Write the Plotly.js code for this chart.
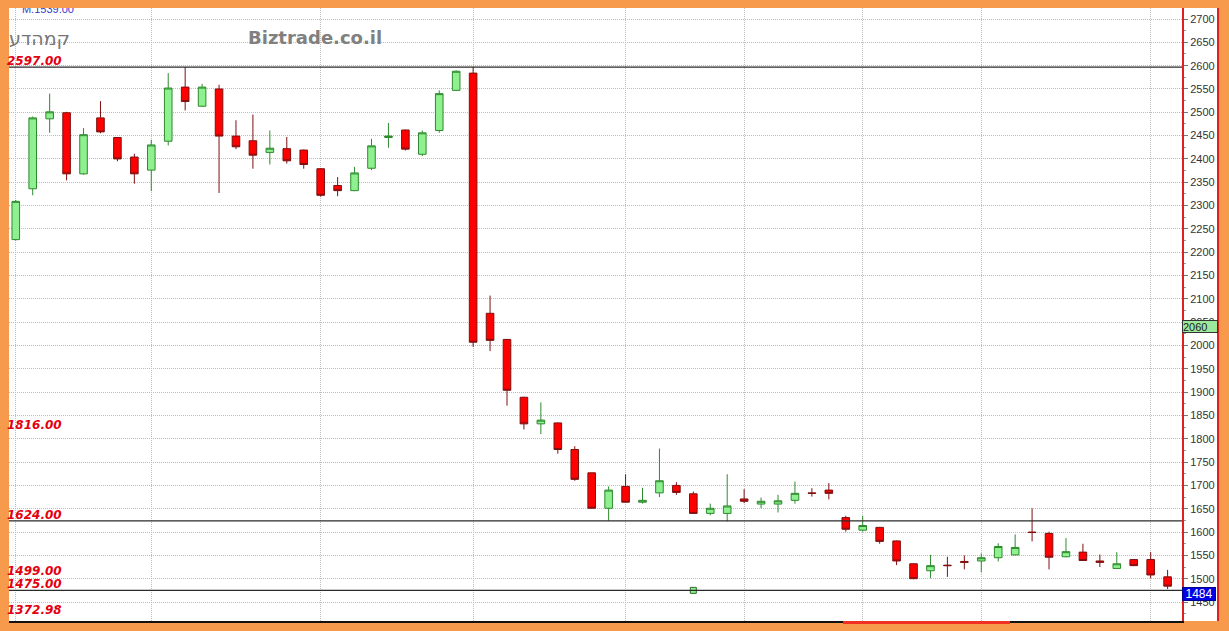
<!DOCTYPE html>
<html><head><meta charset="utf-8">
<script src="https://cdn.plot.ly/plotly-3.0.1.min.js"></script>
<style>html,body{margin:0;padding:0;background:#F89A4C;}#chart{width:1229px;height:631px;}</style>
</head><body><div id="chart"></div>
<script>
// trading-day index (dates not legible in the reference)
const days = [0,1,2,3,4,5,6,7,8,9,10,11,12,13,14,15,16,17,18,19,20,21,22,23,24,25,26,27,28,29,30,31,32,33,34,
  35,36,37,38,39,40,41,42,43,44,45,46,47,48,49,50,51,52,53,54,55,56,57,58,59,60,61,62,63,64,65,66,67,68];
const openP  = [2227,2336,2486,2499,2368,2488,2446,2404,2376,2438,2554,2513,2550,2449,2439,2414,2422,2419,2379,2343,2332,2380,2446,2462,2410,2461,2547,2584,2069,2013,1889,1832,1834,1777,1727,
  1651,1698,1664,1684,1700,1682,1640,1640,1671,1660,1660,1668,1684,1690,1631,1604,1610,1581,1532,1517,1529,1537,1538,1545,1551,1600,1597,1547,1557,1538,1522,1541,1541,1504];
const highP  = [2312,2491,2540,2501,2466,2524,2447,2411,2441,2584,2597,2561,2559,2483,2495,2461,2447,2420,2380,2361,2383,2443,2477,2463,2461,2547,2590,2597,2107,2014,1890,1878,1835,1784,1727,
  1698,1724,1695,1779,1707,1687,1661,1724,1692,1674,1680,1708,1694,1705,1635,1635,1611,1582,1533,1551,1547,1550,1554,1576,1595,1651,1601,1587,1575,1552,1557,1542,1557,1519];
const lowP   = [2225,2322,2456,2354,2366,2455,2395,2347,2331,2429,2504,2512,2327,2421,2379,2388,2390,2379,2319,2320,2331,2376,2424,2418,2406,2456,2546,1997,1988,1871,1820,1810,1768,1710,1650,
  1624,1663,1661,1675,1680,1639,1636,1623,1662,1651,1642,1661,1676,1670,1601,1601,1575,1529,1499,1501,1504,1520,1514,1537,1550,1580,1520,1546,1538,1525,1521,1527,1501,1478];
const closeP = [2309,2488,2501,2368,2452,2458,2400,2368,2430,2552,2523,2554,2449,2426,2408,2423,2396,2388,2322,2332,2370,2428,2449,2421,2456,2540,2588,2007,2011,1904,1832,1840,1777,1713,1651,
  1690,1664,1668,1710,1685,1640,1651,1656,1666,1666,1667,1683,1683,1683,1606,1614,1580,1538,1500,1528,1528,1535,1545,1569,1567,1599,1546,1558,1539,1535,1532,1528,1508,1484];
// vertical grid positions (period boundaries)
const gridDays = [0,8,18,27,36,43,50,57,67];
// horizontal reference levels drawn as lines
const levelLines = [2597, 1624, 1475];
// red level labels on the left
const levelLabels = ["2597.00","1816.00","1624.00","1499.00","1475.00"];
const levelValues = [2597, 1816, 1624, 1499, 1475];
const lowLabel = "1372.98";
const markerDay = [40], markerVal = [1475];
const lastPrice = 1484, maValue = 2060;
const topText = "M.1539.00";
const stockName = "קמהדע";
const siteName = "Biztrade.co.il";

const W = 1173; // plot width px
const traces = [
  {type:'candlestick', x:days, open:openP, high:highP, low:lowP, close:closeP,
   increasing:{line:{color:'#2E8A2E', width:1}, fillcolor:'#8EF08E'},
   decreasing:{line:{color:'#7E1010', width:1}, fillcolor:'#FF0000'},
   whiskerwidth:0, hoverinfo:'skip'},
  {type:'scatter', mode:'markers', x:markerDay, y:markerVal,
   marker:{symbol:'square', size:6, color:'#8EF08E', line:{color:'#2E6A2E', width:1}}, hoverinfo:'skip'},
  {type:'scatter', mode:'text', x:[1.9], y:[2719.5], text:[topText], cliponaxis:true,
   textfont:{family:'Liberation Sans, Arial', size:11, color:'#3340C8'}, hoverinfo:'skip'}
];

const ann = [];
const lblFont = {family:'DejaVu Sans', size:12, color:'#E3000F', weight:'bold', style:'italic'};
levelLabels.forEach((t,i)=>{
  ann.push({xref:'paper', yref:'y', x:0, y:levelValues[i], xanchor:'left', yanchor:'bottom', xshift:-3,
    yshift:(t==="1499.00" ? 0 : -2), text:t, showarrow:false, borderpad:0, font:lblFont});
});
ann.push({xref:'paper', yref:'paper', x:0, y:(621-610)/613, xanchor:'left', yanchor:'middle', xshift:-3,
  text:lowLabel, showarrow:false, borderpad:0, font:lblFont});
ann.push({xref:'paper', yref:'paper', x:(315-9)/W, y:(621-37)/613, xanchor:'center', yanchor:'middle',
  text:siteName, showarrow:false, font:{family:'DejaVu Sans', size:18, color:'#808080', weight:'bold'}});
ann.push({xref:'paper', yref:'paper', x:(39-9)/W, y:(621-38)/613, xanchor:'center', yanchor:'middle',
  text:stockName, showarrow:false, font:{family:'DejaVu Sans', size:19, color:'#767676'}});
ann.push({xref:'paper', yref:'y', x:1, y:maValue, xanchor:'left', yanchor:'top', yshift:-2,
  text:String(maValue), showarrow:false, bgcolor:'#9CE99C', bordercolor:'#333', borderwidth:1, borderpad:0,
  width:34, height:11, align:'left', font:{family:'Liberation Sans, Arial', size:11, color:'#222'}});
ann.push({xref:'paper', yref:'y', x:1, y:lastPrice, xanchor:'left', yanchor:'top', yshift:-1,
  text:String(lastPrice), showarrow:false, bgcolor:'#0000E6', bordercolor:'#00008A', borderwidth:1, borderpad:0,
  width:32, height:12, align:'center', font:{family:'Liberation Sans, Arial', size:12, color:'#FFFFFF'}});

const shapes = [
  {type:'rect', xref:'paper', yref:'paper', x0:1, x1:1+36/W, y0:0, y1:1, fillcolor:'#FFFFFF', line:{width:0}, layer:'below'},
  {type:'line', xref:'paper', yref:'paper', x0:1+36/W, x1:1+36/W, y0:0, y1:1, line:{color:'#E02020', width:2}},
  {type:'rect', xref:'paper', yref:'paper', x0:(843-9)/W, x1:(1010-9)/W, y0:-3/613, y1:0, fillcolor:'#F03020', line:{width:0}}
];
levelLines.forEach(v=>shapes.push({type:'line', xref:'paper', yref:'y', x0:0, x1:1, y0:v, y1:v,
  line:{color:'#2A2A2A', width:1.3}}));

const layout = {
  width:1229, height:631,
  margin:{l:9, r:47, t:8, b:10},
  paper_bgcolor:'#F89A4C', plot_bgcolor:'#FFFFFF',
  showlegend:false, hovermode:false, dragmode:false,
  boxgap:0.36,
  xaxis:{range:[-0.4,68.85], rangeslider:{visible:false}, tickmode:'array', tickvals:gridDays,
    showticklabels:false, ticks:'', showgrid:true, gridcolor:'#BDBDBD', griddash:'1px,1px', gridwidth:1,
    showline:true, linecolor:'#111', linewidth:2, zeroline:false, fixedrange:true},
  yaxis:{side:'right', range:[1409.3,2723.6], tick0:0, dtick:50, showgrid:true, gridcolor:'#BDBDBD', griddash:'1px,1px',
    gridwidth:1, ticks:'outside', ticklen:4, tickcolor:'#777', tickfont:{family:'Liberation Sans, Arial', size:11, color:'#333'},
    showline:true, linecolor:'#E02020', linewidth:2, zeroline:false, fixedrange:true,
    minor:{dtick:25, ticks:'outside', ticklen:2, tickcolor:'#999', showgrid:false}},
  annotations:ann, shapes:shapes
};
Plotly.newPlot('chart', traces, layout, {displayModeBar:false, staticPlot:true});
</script></body></html>
